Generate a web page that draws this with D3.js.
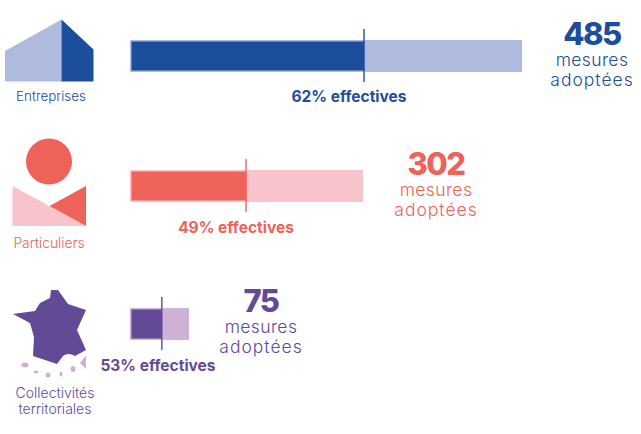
<!DOCTYPE html>
<html>
<head>
<meta charset="utf-8">
<script src="https://cdn.jsdelivr.net/npm/d3@7"></script>
<style>
  html, body { margin: 0; padding: 0; background: #fff; }
  svg { display: block; }
  text { font-family: Inter, "Open Sans", sans-serif; text-anchor: middle; }
</style>
</head>
<body>
<div id="chart"></div>
<script>
// Values
const categories = ["Entreprises", "Particuliers", "Collectivités territoriales"];
const measures = [485, 302, 75];
const effectiveLabels = [62, 49, 53];
const effectiveMarks = [59.7, 49.8, 54];

const darkColors = ["#1c4e9b", "#ee6259", "#634a97"];
const lightColors = ["#aebbdf", "#f8c4cc", "#ceb2d6"];

// Layout of each row
const barTops = [40, 170, 308];
const barHeight = 32;
const barLeft = 130;
const labelXs = [349, 236, 158];
const labelYs = [102, 233, 371];
const countXs = [592, 436, 261];
const countYs = [45, 175, 312];

const svg = d3.select("#chart").append("svg")
    .attr("width", 641)
    .attr("height", 434);

// The bars are not strictly proportional in the source, so the scale is piecewise
const widthScale = d3.scaleLinear()
    .domain([0, 75, 302, 485])
    .range([0, 59, 233, 392]);

function shareScale(i) {
    return d3.scaleLinear()
        .domain([0, 100])
        .range([barLeft, barLeft + widthScale(measures[i])]);
}

const rows = svg.selectAll("g.row")
    .data(categories)
    .enter()
    .append("g")
    .attr("class", "row");

// Light full bar
rows.append("rect")
    .attr("x", barLeft)
    .attr("y", (d, i) => barTops[i])
    .attr("width", (d, i) => widthScale(measures[i]))
    .attr("height", barHeight)
    .attr("fill", (d, i) => lightColors[i]);

// Dark effective part, inset inside the light bar
rows.append("rect")
    .attr("x", barLeft + 1.5)
    .attr("y", (d, i) => barTops[i] + 1.5)
    .attr("width", (d, i) => shareScale(i)(effectiveMarks[i]) - barLeft - 1.5)
    .attr("height", barHeight - 3)
    .attr("fill", (d, i) => darkColors[i]);

// Tick at the end of the effective part
rows.append("line")
    .attr("x1", (d, i) => shareScale(i)(effectiveMarks[i]))
    .attr("x2", (d, i) => shareScale(i)(effectiveMarks[i]))
    .attr("y1", (d, i) => barTops[i] - 11)
    .attr("y2", (d, i) => barTops[i] + barHeight + 10)
    .attr("stroke", (d, i) => darkColors[i])
    .attr("stroke-width", 1.4);

rows.append("text")
    .attr("x", (d, i) => labelXs[i])
    .attr("y", (d, i) => labelYs[i])
    .attr("font-size", 15.5)
    .attr("font-weight", 700)
    .attr("fill", (d, i) => darkColors[i])
    .text((d, i) => effectiveLabels[i] + "% effectives");

rows.append("text")
    .attr("x", (d, i) => countXs[i])
    .attr("y", (d, i) => countYs[i])
    .attr("font-size", 31)
    .attr("font-weight", 800)
    .attr("letter-spacing", -1.5)
    .attr("fill", (d, i) => darkColors[i])
    .text((d, i) => measures[i]);

rows.append("text")
    .attr("x", (d, i) => countXs[i])
    .attr("y", (d, i) => countYs[i] + 21)
    .attr("font-size", 17.5)
    .attr("font-weight", 300)
    .attr("letter-spacing", 0.4)
    .attr("fill", (d, i) => darkColors[i])
    .text("mesures");

rows.append("text")
    .attr("x", (d, i) => countXs[i])
    .attr("y", (d, i) => countYs[i] + 41)
    .attr("font-size", 17.5)
    .attr("font-weight", 300)
    .attr("letter-spacing", 1)
    .attr("fill", (d, i) => darkColors[i])
    .text("adoptées");

// Category names
svg.append("text").attr("x", 51).attr("y", 101).attr("font-size", 13.4)
    .attr("font-weight", 300).attr("fill", darkColors[0]).text("Entreprises");
svg.append("text").attr("x", 49).attr("y", 248).attr("font-size", 13.8)
    .attr("font-weight", 300).attr("fill", darkColors[1]).text("Particuliers");
svg.append("text").attr("x", 55).attr("y", 398).attr("font-size", 14)
    .attr("font-weight", 300).attr("fill", darkColors[2]).text("Collectivités");
svg.append("text").attr("x", 55).attr("y", 414).attr("font-size", 14)
    .attr("font-weight", 300).attr("fill", darkColors[2]).text("territoriales");

// Icons
const icons = svg.append("g");

// House
icons.append("path").attr("d", "M5 51L61.5 19.5V81.5H5Z").attr("fill", lightColors[0]);
icons.append("path").attr("d", "M61.5 19.5L93.5 49.5V81.5H61.5Z").attr("fill", darkColors[0]);

// Person
icons.append("circle").attr("cx", 49).attr("cy", 161.5).attr("r", 23).attr("fill", darkColors[1]);
icons.append("path").attr("d", "M12.5 186L86 226H12.5Z").attr("fill", lightColors[1]);
icons.append("path").attr("d", "M49.5 206L86 186V226Z").attr("fill", darkColors[1]);

// France
icons.append("path")
    .attr("d", "M51 290L58 290L68 304L86 310L77 330L86 350L75 356Q68 352 63 356L57 364L33 356L34 337L30 323L13 314L35 311L40 303L50 298Z")
    .attr("fill", darkColors[2]);
icons.append("path").attr("d", "M80 363L86 355V369Z").attr("fill", lightColors[2]);
const islands = [[25, 365, 3.5, 2.5], [36, 372, 2.5, 1.5], [48, 375, 2.5, 2.5], [61, 374, 1.5, 2.5], [73, 369, 2.5, 3]];
icons.selectAll("ellipse.island")
    .data(islands)
    .enter()
    .append("ellipse")
    .attr("class", "island")
    .attr("cx", d => d[0])
    .attr("cy", d => d[1])
    .attr("rx", d => d[2])
    .attr("ry", d => d[3])
    .attr("fill", lightColors[2]);
</script>
</body>
</html>
